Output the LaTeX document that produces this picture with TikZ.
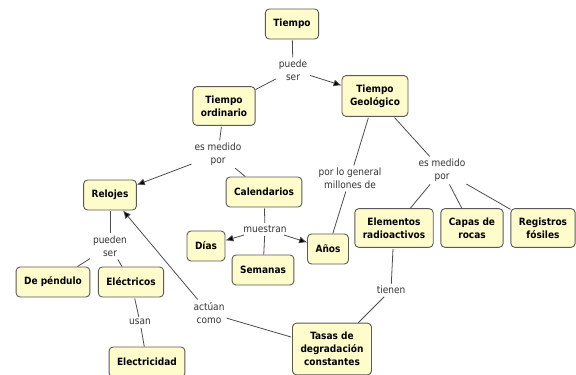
\documentclass[tikz,border=0pt]{standalone}
\usepackage{fontspec}
\setmainfont{DejaVu Sans Condensed}
\usetikzlibrary{positioning,arrows.meta}

\begin{document}
\begin{tikzpicture}[x=1pt,y=-1pt,>={Latex[length=8pt,width=7pt]},
   concept/.style={draw=black!65,fill=yellow!20,rounded corners=4pt,line width=0.9pt,
      align=center,font=\bfseries\fontsize{10}{13}\selectfont,
      inner xsep=8pt,inner ysep=9pt,minimum height=30pt},
   link/.style={align=center,font=\fontsize{10}{13}\selectfont,text=black!80,inner sep=2pt},
   conn/.style={draw=black!70,line width=0.8pt,shorten <=1pt}]
   \useasboundingbox (0,0) rectangle (576,375);
   % concepts
   \node [concept] (tiempo) at (292,24) {Tiempo};
   \node [concept] (ordinario) at (224,106) {Tiempo\\ordinario};
   \node [concept] (geologico) at (375,96) {Tiempo\\Geológico};
   \node [concept] (relojes) at (110,195) {Relojes};
   \node [concept] (calendarios) at (264,192) {Calendarios};
   \node [concept] (dias) at (206,246) {Días};
   \node [concept] (semanas) at (263,270) {Semanas};
   \node [concept] (anos) at (328,249) {Años};
   \node [concept] (elementos) at (394,228) {Elementos\\radioactivos};
   \node [concept, on grid, right=78pt of elementos] (capas) {Capas de\\rocas};
   \node [concept, on grid, right=71pt of capas] (registros) {Registros\\fósiles};
   \node [concept] (pendulo) at (53,282) {De péndulo};
   \node [concept, on grid, right=78pt of pendulo] (electricos) {Eléctricos};
   \node [concept] (electricidad) at (147,362) {Electricidad};
   \node [concept] (tasas) at (332,349) {Tasas de\\degradación\\constantes};
   % linking phrases
   \node [link] (puede) at (293,70) {puede\\ser};
   \node [link] (medido1) at (218,154) {es medido\\por};
   \node [link] (general) at (350,178) {por lo general\\millones de};
   \node [link] (medido2) at (442,170) {es medido\\por};
   \node [link] (muestran) at (265,229) {muestran};
   \node [link] (pueden) at (110,246) {pueden\\ser};
   \node [link] (usan) at (140,322) {usan};
   \node [link] (actuan) at (209,313) {actúan\\como};
   \node [link] (tienen) at (391,290) {tienen};
   % connectors
   \path[conn]
    (tiempo) edge (puede)
    (puede) edge (ordinario)
            edge [->] (geologico)
    (ordinario) edge (medido1)
    (medido1) edge [->] (relojes)
              edge (calendarios)
    (geologico) edge (general)
                edge (medido2)
    (general) edge (anos)
    (medido2) edge (elementos)
              edge (capas)
              edge (registros)
    (calendarios) edge (muestran)
    (muestran) edge [->] (dias)
               edge (semanas)
               edge [->] (anos)
    (relojes) edge (pueden)
    (pueden) edge (pendulo)
             edge (electricos)
    (electricos) edge (usan)
    (usan) edge (electricidad)
    (elementos) edge (tienen)
    (tienen) edge (tasas)
    (tasas) edge (actuan)
    (actuan) edge [->] (relojes);
\end{tikzpicture}
\end{document}
